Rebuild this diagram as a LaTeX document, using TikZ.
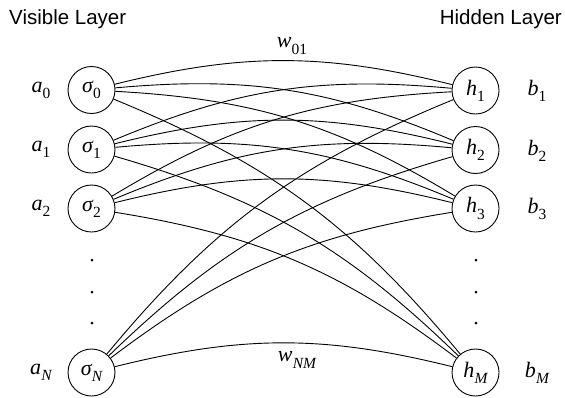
\documentclass[tikz,border=0pt]{standalone}
\usepackage{fontspec}
\setsansfont{Liberation Sans}
\newfontfamily\tms{Liberation Serif}
\newcommand\sv[2]{{\tms\itshape #1\kern0.2pt\raisebox{-0.28em}{\fontsize{15.5}{15.5}\selectfont #2}}}
\newcommand\sd[1]{{\upshape #1}}
\begin{document}
\begin{tikzpicture}[x=1pt,y=-1pt,
  unit/.style={circle,draw,line width=0.9pt,minimum size=47pt,inner sep=0pt,font=\fontsize{22}{26}\selectfont},
  lab/.style={font=\fontsize{22}{26}\selectfont,inner sep=0pt},
  ttl/.style={font=\sffamily\fontsize{20.5}{24}\selectfont,inner sep=0pt},
  wire/.style={line width=0.9pt,bend left=14},
  dot/.style={circle,fill,inner sep=0pt,minimum size=3pt}]
\useasboundingbox (0,0) rectangle (565,397);
\node[ttl,anchor=base west] (tv) at (9,24) {Visible Layer};
\node[ttl,anchor=base east] (th) at (562,24) {Hidden Layer};
% visible units
\node[unit] (v0) at (91.5,90) {\sv{σ}{\sd{0}}};
\node[unit] (v1) at (91.5,149.5) {\sv{σ}{\sd{1}}};
\node[unit] (v2) at (91.5,208.5) {\sv{σ}{\sd{2}}};
\node[unit] (vN) at (91.5,372.5) {\sv{σ}{N}};
% hidden units
\node[unit] (h1) at (475.5,90.5) {\sv{h}{\sd{1}}};
\node[unit] (h2) at (475.5,150) {\sv{h}{\sd{2}}};
\node[unit] (h3) at (475.5,208.5) {\sv{h}{\sd{3}}};
\node[unit] (hM) at (475.5,372.5) {\sv{h}{M}};
% biases
\node[lab] (a0) at (41,90) {\sv{a}{\sd{0}}};
\node[lab] (a1) at (41,149.5) {\sv{a}{\sd{1}}};
\node[lab] (a2) at (41,208.5) {\sv{a}{\sd{2}}};
\node[lab] (aN) at (41,372.5) {\sv{a}{N}};
\node[lab] (b1) at (537,91) {\sv{b}{\sd{1}}};
\node[lab] (b2) at (537,150.5) {\sv{b}{\sd{2}}};
\node[lab] (b3) at (537,209) {\sv{b}{\sd{3}}};
\node[lab] (bM) at (537,373) {\sv{b}{M}};
% dots
\foreach \y [count=\k] in {260,292,323}{
  \node[dot] (vd\k) at (92,\y) {};
  \node[dot] (hd\k) at (476,\y) {};
}
% connections
\foreach \v in {v0,v1,v2,vN}{
  \foreach \h in {h1,h2,h3,hM}{
    \draw[wire] (\v) to (\h);
  }
}
\node[lab] (w01) at (292,46) {\sv{w}{\sd{01}}};
\node[lab] (wNM) at (297,360) {\sv{w}{NM}};
\end{tikzpicture}
\end{document}
